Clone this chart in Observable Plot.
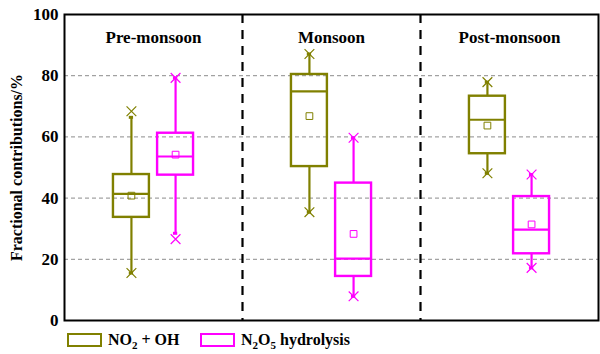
<!DOCTYPE html>
<html><head><meta charset="utf-8">
<script src="https://cdn.jsdelivr.net/npm/d3@7"></script>
<script src="https://cdn.jsdelivr.net/npm/@observablehq/plot@0.6"></script>
<style>
body{margin:0;background:#fff;font-family:"Liberation Serif","Times New Roman",serif;position:relative;}
#chart svg{display:block;}
#legend{position:absolute;left:0;top:332px;width:600px;height:20px;font-weight:bold;font-size:16px;color:#000;}
.item{position:absolute;top:0;display:flex;align-items:center;}
.sw{width:31px;height:10px;border:2.5px solid;box-sizing:content-box;}
.lab{margin-left:6px;line-height:15px;}
sub{font-size:11px;vertical-align:-4px;line-height:0;}
</style></head><body>
<div id="chart"></div>
<div id="legend">
  <div class="item" style="left:67px"><div class="sw" style="border-color:#808000"></div><span class="lab">NO<sub>2</sub> + OH</span></div>
  <div class="item" style="left:200px"><div class="sw" style="border-color:#ff00ff"></div><span class="lab">N<sub>2</sub>O<sub>5</sub> hydrolysis</span></div>
</div>
<script>
const seasons = ["Pre-monsoon", "Monsoon", "Post-monsoon"];
const seriesNames = ["NO2 + OH", "N2O5 hydrolysis"];
const seriesColors = ["#808000", "#ff00ff"];
const yTicks = [0, 20, 40, 60, 80, 100];
// [series][season]
const minVals     = [[15.5, 35.4, 48.1], [26.6, 7.9, 17.2]];
const whiskerLow  = [[15.5, 35.4, 48.1], [28.5, 7.9, 17.2]];
const q1Vals      = [[33.7, 50.3, 54.5], [47.5, 14.4, 21.8]];
const medianVals  = [[41.4, 74.9, 65.6], [53.6, 20.2, 29.7]];
const q3Vals      = [[47.7, 80.4, 73.3], [61.2, 44.9, 40.5]];
const whiskerHigh = [[66.4, 87.1, 77.9], [79.3, 59.7, 47.7]];
const maxVals     = [[68.4, 87.1, 77.9], [79.3, 59.7, 47.7]];
const meanVals    = [[40.8, 66.8, 63.7], [54.2, 28.3, 31.4]];

const OFFSET = 0.124, HALF = 0.101, CAP = 0.012;
const rows = [];
seriesNames.forEach((name, s) => seasons.forEach((season, i) => rows.push({
  season, series: name, color: seriesColors[s],
  pos: i + 0.5 + (s === 0 ? -OFFSET : OFFSET),
  min: minVals[s][i], wlo: whiskerLow[s][i], q1: q1Vals[s][i], med: medianVals[s][i],
  q3: q3Vals[s][i], whi: whiskerHigh[s][i], max: maxVals[s][i], mean: meanVals[s][i]
})));
const extremes = rows.flatMap(d => [{pos: d.pos, v: d.min, color: d.color}, {pos: d.pos, v: d.max, color: d.color}]);
const caps = rows.flatMap(d => [{pos: d.pos, v: d.wlo, color: d.color}, {pos: d.pos, v: d.whi, color: d.color}]);

const chart = Plot.plot({
  width: 600, height: 354,
  marginLeft: 64, marginRight: 2, marginTop: 14, marginBottom: 34,
  style: {fontFamily: '"Liberation Serif","Times New Roman",serif', background: "#fff"},
  x: {domain: [0, 3], axis: null},
  y: {domain: [0, 100], axis: null},
  marks: [
    Plot.gridY(yTicks.slice(1, -1), {stroke: "#8c8c8c", strokeOpacity: 1, strokeWidth: 1, strokeDasharray: "4,3"}),
    Plot.ruleX([1, 2], {stroke: "#000", strokeWidth: 2.2, strokeDasharray: "9,7"}),
    Plot.ruleX(rows, {x: "pos", y1: "q3", y2: "whi", stroke: "color", strokeWidth: 2.2}),
    Plot.ruleX(rows, {x: "pos", y1: "wlo", y2: "q1", stroke: "color", strokeWidth: 2.2}),
    Plot.ruleY(caps, {y: "v", x1: d => d.pos - CAP, x2: d => d.pos + CAP, stroke: "color", strokeWidth: 3}),
    Plot.rect(rows, {x1: d => d.pos - HALF, x2: d => d.pos + HALF, y1: "q1", y2: "q3", stroke: "color", fill: "none", strokeWidth: 2.4}),
    Plot.ruleY(rows, {y: "med", x1: d => d.pos - HALF, x2: d => d.pos + HALF, stroke: "color", strokeWidth: 2.2}),
    Plot.dot(rows, {x: "pos", y: "mean", symbol: "square", r: 3.8, stroke: "color", strokeWidth: 1, fill: "none"}),
    Plot.dot(extremes, {x: "pos", y: "v", symbol: "times", r: 4.5, stroke: "color", strokeWidth: 1.2}),
    Plot.text(seasons, {x: (d, i) => i + 0.5, frameAnchor: "top", dy: 16, text: d => d, fontSize: 17, fontWeight: "bold", fill: "#000"}),
    Plot.axisY(yTicks, {tickSize: 0, tickPadding: 6, fontSize: 17, fontWeight: "bold", label: null, color: "#000"}),
    Plot.text(["Fractional contributions/%"], {frameAnchor: "left", textAnchor: "middle", dx: -48, rotate: -90, text: d => d, fontSize: 16, fontWeight: "bold", fill: "#000"}),
    Plot.frame({stroke: "#000", strokeWidth: 2})
  ]
});
document.getElementById("chart").appendChild(chart);
</script>
</body></html>
